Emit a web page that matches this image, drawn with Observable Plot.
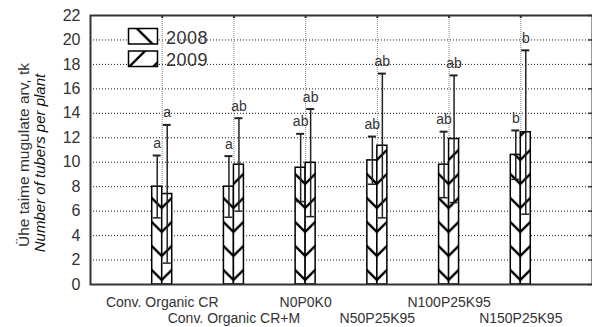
<!DOCTYPE html>
<html><head><meta charset="utf-8">
<script src="https://cdn.jsdelivr.net/npm/d3@7"></script>
<script src="https://cdn.jsdelivr.net/npm/@observablehq/plot@0.6"></script>
<style>
body{margin:0;background:#fff;}
</style></head><body><div id="chart"></div>
<script>
const categories = ["Conv. Organic CR", "Conv. Organic CR+M", "N0P0K0", "N50P25K95", "N100P25K95", "N150P25K95"];
const years = ["2008", "2009"];
const mean2008 = [8.0, 8.0, 9.55, 10.15, 9.8, 10.6];
const sd2008 = [2.55, 2.5, 2.77, 1.95, 2.7, 2.0];
const mean2009 = [7.4, 9.8, 9.95, 11.35, 11.9, 12.45];
const sd2009 = [5.65, 3.8, 4.4, 5.9, 5.2, 6.7];
const letters2008 = ["a", "a", "ab", "ab", "ab", "b"];
const letters2009 = ["a", "ab", "ab", "ab", "ab", "b"];
const yTicks = [0, 2, 4, 6, 8, 10, 12, 14, 16, 18, 20, 22];
const yTitle = "Ühe taime mugulate arv, tk";
const yTitleEn = "Number of tubers per plant";

const W = 592, H = 327, mL = 90, mR = 0, mT = 15, mB = 43;
const unit = (W - mL - mR) / 7;        // px per x unit
const barW = 10 / unit;
const capW = 4 / unit;
const tickLen = 4 / unit;
const vUnit = (H - mT - mB) / 22;

const rows = [];
categories.forEach((c, i) => {
  rows.push({cat: c, year: "2008", pos: i + 1, x1: i + 1 - barW, x2: i + 1, m: mean2008[i], sd: sd2008[i], letter: letters2008[i]});
  rows.push({cat: c, year: "2009", pos: i + 1, x1: i + 1, x2: i + 1 + barW, m: mean2009[i], sd: sd2009[i], letter: letters2009[i]});
});
rows.forEach(d => { d.xc = (d.x1 + d.x2) / 2; d.lo = d.m - d.sd; d.hi = d.m + d.sd; });
const rows2008 = rows.filter(d => d.year === "2008");
const rows2009 = rows.filter(d => d.year === "2009");
const catRows = categories.map((c, i) => ({cat: c, pos: i + 1, row: i % 2}));
const font = "'Liberation Sans', Arial, sans-serif";

const plot = Plot.plot({
  width: W, height: H,
  marginLeft: mL, marginRight: mR, marginTop: mT, marginBottom: mB,
  x: {domain: [0, 7], axis: null},
  y: {domain: [0, 22], axis: null},
  style: {fontFamily: font, color: "#333", background: "#fff", overflow: "visible"},
  marks: [
    Plot.ruleY(yTicks.filter(t => t > 0 && t < 22), {stroke: "#000", strokeOpacity: 0.9, strokeWidth: 1, strokeDasharray: "1,2"}),
    Plot.ruleX(catRows, {x: "pos", stroke: "#888", strokeWidth: 1, strokeDasharray: "1,1"}),
    Plot.ruleY(yTicks, {y: d => d, x1: 7 - tickLen, x2: 7, stroke: "#333", strokeWidth: 1.5}),
    Plot.ruleX(catRows, {x: "pos", y1: 22, y2: 22 - 3 / vUnit, stroke: "#333", strokeWidth: 2}),
    Plot.rect(rows2008, {x1: "x1", x2: "x2", y1: 0, y2: "m", fill: "#fffffe", stroke: "#000", strokeWidth: 1.5}),
    Plot.rect(rows2009, {x1: "x1", x2: "x2", y1: 0, y2: "m", fill: "#fffffd", stroke: "#000", strokeWidth: 1.5}),
    Plot.ruleX(rows, {x: "xc", y1: "lo", y2: "hi", stroke: "#222", strokeWidth: 1.5}),
    Plot.ruleY(rows, {y: "hi", x1: d => d.xc - capW, x2: d => d.xc + capW, stroke: "#222", strokeWidth: 2}),
    Plot.ruleY(rows, {y: "lo", x1: d => d.xc - capW, x2: d => d.xc + capW, stroke: "#222", strokeWidth: 1.5}),
    Plot.text(rows, {x: "xc", y: "hi", text: "letter", dy: -12, fontSize: 14, fill: "#333"}),
    Plot.text(yTicks, {x: 0, y: d => d, text: d => String(d), textAnchor: "end", dx: -10, fontSize: 16, fill: "#333"}),
    Plot.text(catRows.filter(d => d.row === 0), {x: "pos", text: "cat", frameAnchor: "bottom", lineAnchor: "middle", textAnchor: "middle", dy: 18, fontSize: 14, fill: "#333"}),
    Plot.text(catRows.filter(d => d.row === 1), {x: "pos", text: "cat", frameAnchor: "bottom", lineAnchor: "middle", textAnchor: "middle", dy: 34.5, fontSize: 14, fill: "#333"}),
    Plot.text([yTitle], {frameAnchor: "left", textAnchor: "middle", lineAnchor: "middle", rotate: -90, dx: -66, dy: 5, fontSize: 15.5, fill: "#333"}),
    Plot.text([yTitleEn], {frameAnchor: "left", textAnchor: "middle", lineAnchor: "middle", rotate: -90, dx: -50.5, dy: 13, fontSize: 15, fontStyle: "italic", fill: "#111"}),
    Plot.frame({stroke: "#333", strokeWidth: 2})
  ]
});

document.getElementById("chart").appendChild(plot);

// hatch patterns
const svg = d3.select(plot);
const defs = svg.insert("defs", ":first-child");
function addPattern(id, dir, tx, ty) {
  const p = defs.append("pattern").attr("id", id)
    .attr("patternUnits", "userSpaceOnUse").attr("width", 24).attr("height", 24)
    .attr("patternTransform", `translate(${tx},${ty})`);
  p.append("rect").attr("width", 24).attr("height", 24).attr("fill", "#fff");
  p.append("path")
    .attr("d", dir === "back" ? "M-6,-6L30,30M-6,18L6,30M18,-6L30,6" : "M-6,30L30,-6M-6,6L6,-6M18,30L30,18")
    .attr("stroke", "#000").attr("stroke-width", 2.3).attr("fill", "none");
}
const baseY = H - mB - 4;
svg.selectAll('g[fill="#fffffe"] rect, rect[fill="#fffffe"]').each(function(d, i) {
  const r = d3.select(this);
  const c = +r.attr("x") + +r.attr("width");
  addPattern("h2008_" + i, "back", c, baseY);
  r.attr("fill", `url(#h2008_${i})`);
});
svg.selectAll('g[fill="#fffffd"] rect, rect[fill="#fffffd"]').each(function(d, i) {
  const r = d3.select(this);
  const c = +r.attr("x");
  addPattern("h2009_" + i, "fwd", c, baseY);
  r.attr("fill", `url(#h2009_${i})`);
});

// legend
addPattern("leg2008", "back", 137, 28.5);
addPattern("leg2009", "fwd", 129, 67);
const leg = svg.append("g").attr("aria-label", "legend");
const legY = [28.5, 51];
years.forEach((yr, i) => {
  leg.append("rect").attr("x", 128.5).attr("y", legY[i]).attr("width", 29).attr("height", 15.5)
    .attr("fill", `url(#leg${yr})`).attr("stroke", "#000").attr("stroke-width", 1.5);
  leg.append("text").attr("x", 166).attr("y", legY[i] + 15).attr("text-anchor", "start")
    .attr("font-size", 18).attr("font-family", font).attr("fill", "#333").attr("letter-spacing", "0.5px").text(yr);
});
</script>
</body></html>
